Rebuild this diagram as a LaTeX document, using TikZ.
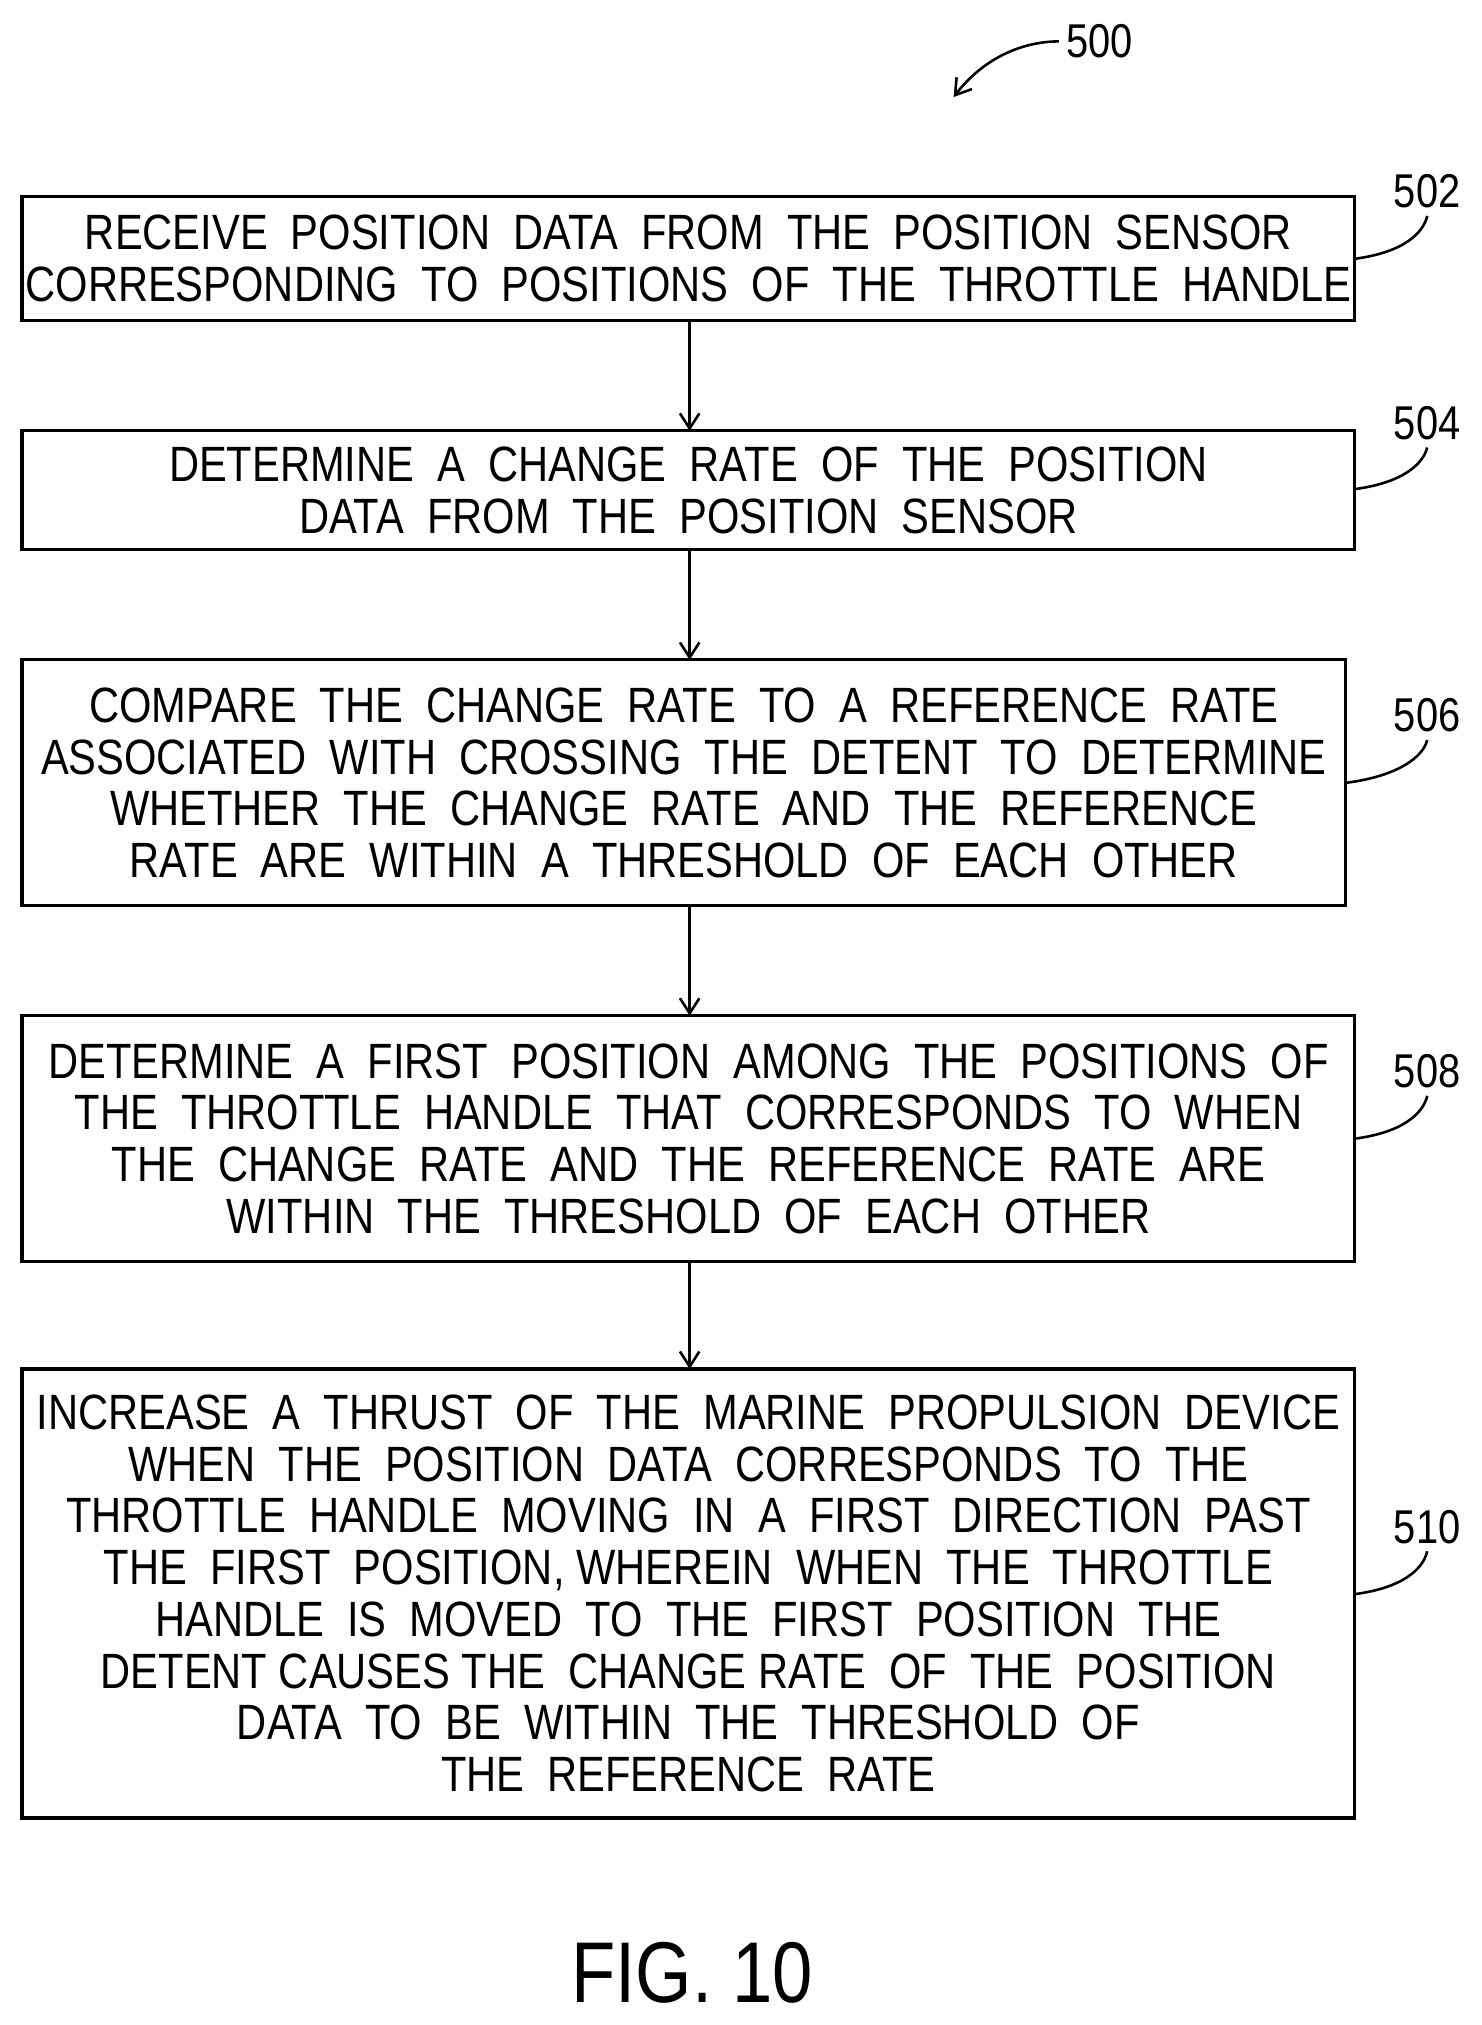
\documentclass[tikz,border=0pt]{standalone}
\usepackage{fontspec}
\setmainfont{Liberation Sans}[FakeStretch=0.84]
\usetikzlibrary{arrows.meta}
\begin{document}
\begin{tikzpicture}[x=0.6pt,y=-0.6pt,
  box/.style={draw,line width=1.4pt,inner sep=0pt},
  txt/.style={align=center,font=\fontsize{23}{24}\selectfont},
  arr/.style={line width=1.2pt,-{Straight Barb[length=7pt,width=9pt]}},
  lead/.style={line width=1.2pt},
  lbl/.style={font=\fontsize{22}{24}\selectfont}]
\useasboundingbox (0,0) rectangle (1145,1565);
\path[box] (17,152) rectangle (1047,248) node[txt,pos=.5] (t502) {RECEIVE\ \ POSITION\ \ DATA\ \ FROM\ \ THE\ \ POSITION\ \ SENSOR\\CORRESPONDING\ \ TO\ \ POSITIONS\ \ OF\ \ THE\ \ THROTTLE\ \ HANDLE};
\path[box] (17,333) rectangle (1047,425) node[txt,pos=.5] {DETERMINE\ \ A\ \ CHANGE\ \ RATE\ \ OF\ \ THE\ \ POSITION\\DATA\ \ FROM\ \ THE\ \ POSITION\ \ SENSOR};
\path[box] (17,510) rectangle (1040,700) node[txt,pos=.5] {COMPARE\ \ THE\ \ CHANGE\ \ RATE\ \ TO\ \ A\ \ REFERENCE\ \ RATE\\ASSOCIATED\ \ WITH\ \ CROSSING\ \ THE\ \ DETENT\ \ TO\ \ DETERMINE\\WHETHER\ \ THE\ \ CHANGE\ \ RATE\ \ AND\ \ THE\ \ REFERENCE\\RATE\ \ ARE\ \ WITHIN\ \ A\ \ THRESHOLD\ \ OF\ \ EACH\ \ OTHER};
\path[box] (17,785) rectangle (1047,975) node[txt,pos=.5] {DETERMINE\ \ A\ \ FIRST\ \ POSITION\ \ AMONG\ \ THE\ \ POSITIONS\ \ OF\\THE\ \ THROTTLE\ \ HANDLE\ \ THAT\ \ CORRESPONDS\ \ TO\ \ WHEN\\THE\ \ CHANGE\ \ RATE\ \ AND\ \ THE\ \ REFERENCE\ \ RATE\ \ ARE\\WITHIN\ \ THE\ \ THRESHOLD\ \ OF\ \ EACH\ \ OTHER};
\path[box] (17,1058) rectangle (1047,1405) node[txt,pos=.5] {INCREASE\ \ A\ \ THRUST\ \ OF\ \ THE\ \ MARINE\ \ PROPULSION\ \ DEVICE\\WHEN\ \ THE\ \ POSITION\ \ DATA\ \ CORRESPONDS\ \ TO\ \ THE\\THROTTLE\ \ HANDLE\ \ MOVING\ \ IN\ \ A\ \ FIRST\ \ DIRECTION\ \ PAST\\THE\ \ FIRST\ \ POSITION,\ WHEREIN\ \ WHEN\ \ THE\ \ THROTTLE\\HANDLE\ \ IS\ \ MOVED\ \ TO\ \ THE\ \ FIRST\ \ POSITION\ \ THE\\DETENT\ CAUSES\ THE\ \ CHANGE\ RATE\ \ OF\ \ THE\ \ POSITION\\DATA\ \ TO\ \ BE\ \ WITHIN\ \ THE\ \ THRESHOLD\ \ OF\\THE\ \ REFERENCE\ \ RATE};
\coordinate (a1) at (533,248); \coordinate (a2) at (533,333);
\coordinate (a3) at (533,425); \coordinate (a4) at (533,510);
\coordinate (a5) at (533,700); \coordinate (a6) at (533,785);
\coordinate (a7) at (533,975); \coordinate (a8) at (533,1058);
\draw[arr] (a1)--(a2); \draw[arr] (a3)--(a4); \draw[arr] (a5)--(a6); \draw[arr] (a7)--(a8);
\node[lbl] (n502) at (1103,148) {502};
\node[lbl] (n504) at (1103,327) {504};
\node[lbl] (n506) at (1103,553) {506};
\node[lbl] (n508) at (1103,828) {508};
\node[lbl] (n510) at (1103,1180) {510};
\node[lbl] (n500) at (850,32) {500};
\draw[lead] (1047,200) .. controls (1085,195) and (1100,180) .. (n502.south);
\draw[lead] (1047,378) .. controls (1085,373) and (1100,358) .. (n504.south);
\draw[lead] (1040,605) .. controls (1080,600) and (1100,585) .. (n506.south);
\draw[lead] (1047,880) .. controls (1085,875) and (1100,860) .. (n508.south);
\draw[lead] (1047,1232) .. controls (1085,1227) and (1100,1212) .. (n510.south);
\draw[arr] (n500.west) .. controls (790,32) and (760,45) .. (737,75);
\node[font=\fontsize{40}{44}\selectfont] (fig) at (535,1525) {FIG.\ 10};
\end{tikzpicture}
\end{document}
